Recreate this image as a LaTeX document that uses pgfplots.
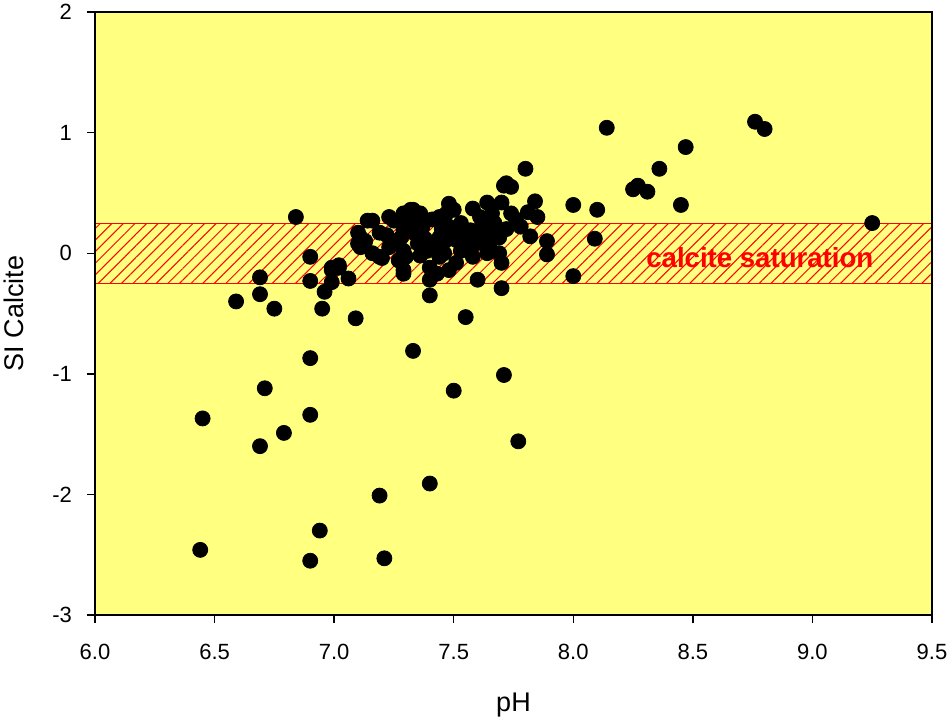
\documentclass[border=0pt]{standalone}
\usepackage{fontspec}
\setmainfont{Liberation Sans}
\usepackage{pgfplots}
\pgfplotsset{compat=1.18}
\usetikzlibrary{patterns.meta}
\definecolor{bgyellow}{RGB}{255,255,128}
\begin{document}
\begin{tikzpicture}
\begin{axis}[
  scale only axis,
  width=418.5pt, height=301.5pt,
  xmin=6, xmax=9.5, ymin=-3, ymax=2,
  axis background/.style={fill=bgyellow},
  axis line style={line width=1pt},
  xtick={6,6.5,7,7.5,8,8.5,9,9.5},
  xticklabels={6.0,6.5,7.0,7.5,8.0,8.5,9.0,9.5},
  ytick={-3,-2,-1,0,1,2},
  yticklabels={-3,-2,-1,0,1,2},
  tick pos=left,
  tick align=outside,
  major tick length=4pt,
  tick style={line width=0.7pt, black},
  tick label style={font=\fontsize{11}{13}\selectfont},
  xticklabel style={yshift=-7pt},
  yticklabel style={xshift=-4pt},
  xlabel={pH},
  ylabel={SI Calcite},
  every axis x label/.style={at={(axis description cs:0.5,-0.149)}, anchor=center, inner sep=0pt, font=\fontsize{13.5}{16}\selectfont},
  every axis y label/.style={at={(axis description cs:-0.0968,0.5)}, rotate=90, anchor=center, inner sep=0pt, font=\fontsize{13.5}{16}\selectfont},
  axis on top,
  clip=true,
]
\coordinate (bl) at (rel axis cs:0,0);
\coordinate (tr) at (rel axis cs:1,1);
\addplot[only marks, mark=*, mark size=3.75pt, mark options={fill=black, draw=black}] coordinates {
(6.44,-2.46)(6.45,-1.37)(6.59,-0.40)(6.69,-0.20)(6.69,-0.34)(6.71,-1.12)(6.69,-1.60)(6.75,-0.46)(6.79,-1.49)
(6.84,0.30)(6.90,-0.03)(6.90,-0.23)(6.90,-0.87)(6.90,-1.34)(6.90,-2.55)(6.94,-2.30)(6.95,-0.46)(6.96,-0.32)
(6.99,-0.14)(7.02,-0.12)(7.06,-0.21)(7.09,-0.54)(7.19,-2.01)(7.21,-2.53)(7.33,-0.81)(7.40,-1.91)(7.50,-1.14)
(7.55,-0.53)(7.71,-1.01)(7.77,-1.56)(7.70,-0.29)(7.60,-0.22)(7.40,-0.35)(7.29,-0.14)(8.00,-0.19)(7.89,-0.01)
(7.89,0.10)(7.82,0.14)(7.84,0.43)(7.80,0.70)(8.00,0.40)(8.10,0.36)(8.09,0.12)(8.14,1.04)(8.25,0.53)(8.27,0.56)
(8.31,0.51)(8.36,0.70)(8.45,0.40)(8.47,0.88)(8.76,1.09)(8.80,1.03)(9.25,0.25)
(6.99,-0.12)(7.02,-0.10)(6.99,-0.24)(7.10,0.08)(7.11,0.05)(7.14,0.27)(7.16,0.27)(7.10,0.17)(7.19,-0.03)
(7.23,0.30)(7.32,0.36)(7.36,0.33)(7.48,0.41)(7.47,0.33)(7.11,0.13)(7.19,0.17)(7.20,-0.04)(7.28,0.13)
(7.29,0.19)(7.29,0.02)(7.30,-0.03)(7.29,-0.17)(7.37,0.22)(7.39,0.02)(7.40,-0.12)(7.40,-0.22)(7.44,-0.03)
(7.48,-0.14)(7.51,-0.08)(7.43,-0.17)(7.47,0.11)(7.50,0.19)(7.35,0.08)(7.23,0.05)(7.16,0.00)
(7.71,0.56)(7.74,0.55)(7.72,0.58)(7.50,0.36)(7.58,0.37)(7.64,0.42)(7.70,0.42)(7.81,0.34)(7.85,0.30)
(7.74,0.33)(7.66,0.33)(7.61,0.30)(7.48,0.22)(7.53,0.25)(7.44,0.13)(7.57,0.19)(7.62,0.22)(7.78,0.22)
(7.69,0.13)(7.69,0.00)(7.70,-0.08)(7.51,0.11)(7.56,0.05)(7.61,0.11)(7.65,0.05)(7.64,0.00)(7.46,0.00)
(7.29,0.33)(7.33,0.36)(7.25,0.27)(7.41,0.28)(7.26,0.10)(7.34,0.16)(7.42,0.05)(7.55,0.14)
(7.31,0.24)(7.38,0.12)(7.45,0.20)(7.53,0.02)(7.59,0.08)(7.66,0.16)(7.72,0.20)(7.22,0.15)(7.27,-0.06)
(7.36,-0.02)(7.33,0.27)(7.44,0.30)(7.58,-0.03)(7.67,0.25)(7.76,0.28)(7.13,0.10)
};
\addplot[draw=red, line width=0.5pt, pattern={Lines[angle=45,distance=4.1pt,line width=0.5pt]}, pattern color=red] coordinates {
(6,-0.25)(9.5,-0.25)(9.5,0.25)(6,0.25)(6,-0.25)};
\node[text=red, font=\fontsize{13.8}{16}\selectfont\bfseries, anchor=center] at (axis cs:8.78,-0.04) {calcite saturation};
\end{axis}
\pgfresetboundingbox
\path ([xshift=-47.5pt,yshift=-51.5pt]bl) rectangle ([xshift=8pt,yshift=6pt]tr);
\end{tikzpicture}
\end{document}
